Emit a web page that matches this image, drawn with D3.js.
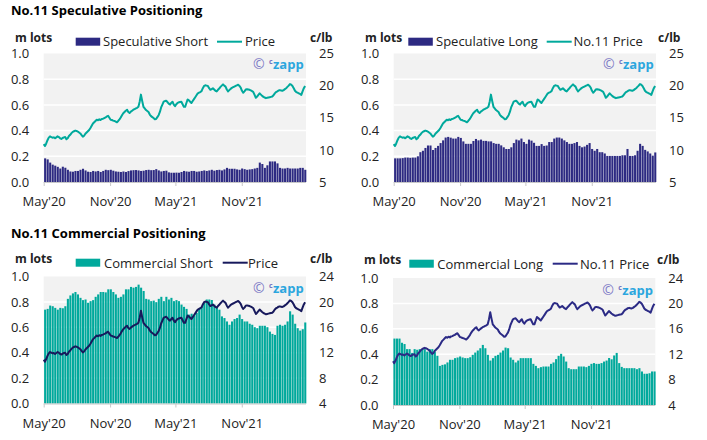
<!DOCTYPE html>
<html><head><meta charset="utf-8">
<script src="https://cdn.jsdelivr.net/npm/d3@7"></script>
<style>
body{margin:0;background:#fff}
svg text{font-family:'Open Sans',sans-serif}
</style>
</head><body>
<svg id="c" width="707" height="440"></svg>
<script>
// ---------- DATA ----------
const weekStart = "2020-05-05";           // first weekly COT report
const priceStart = "2020-05-01";          // first price point
const priceStepHours = 84;                // half-week steps
const xTickDates = ["2020-05-01","2020-11-01","2021-05-01","2021-11-01"];
const leftTicks = [0, 0.2, 0.4, 0.6, 0.8, 1.0];
const rightTicksSpec = [5, 10, 15, 20, 25];
const rightTicksComm = [4, 8, 12, 16, 20, 24];

const specShort = [.184,.176,.151,.135,.127,.118,.105,.119,.111,.095,
 .082,.080,.086,.086,.095,.103,.090,.080,.078,.086,
 .082,.086,.078,.086,.095,.092,.095,.088,.082,.080,
 .078,.082,.078,.085,.090,.092,.093,.090,.086,.088,
 .093,.095,.092,.093,.100,.090,.082,.086,.088,.075,
 .072,.072,.073,.072,.078,.086,.082,.080,.086,.086,
 .080,.082,.086,.090,.086,.090,.095,.088,.093,.095,
 .090,.098,.110,.103,.103,.103,.098,.095,.105,.100,
 .095,.098,.100,.105,.110,.151,.140,.110,.130,.160,
 .160,.160,.145,.110,.105,.105,.110,.105,.105,.105,
 .105,.110,.110,.095];

const specLong = [.184,.184,.184,.186,.190,.190,.188,.190,.190,.200,
 .232,.243,.265,.284,.284,.249,.265,.281,.303,.324,
 .346,.351,.345,.338,.338,.351,.343,.316,.297,.297,
 .297,.319,.335,.324,.330,.320,.320,.316,.316,.303,
 .297,.297,.285,.270,.257,.257,.270,.303,.330,.324,
 .338,.311,.297,.330,.322,.305,.281,.281,.295,.281,
 .284,.311,.311,.338,.346,.346,.338,.324,.311,.297,
 .297,.303,.311,.281,.270,.276,.289,.303,.257,.243,
 .257,.232,.232,.222,.203,.203,.203,.203,.203,.203,
 .208,.208,.257,.203,.203,.208,.243,.297,.281,.250,
 .238,.222,.205,.230];

const commShort = [.739,.745,.771,.766,.753,.739,.753,.750,.766,.824,
 .851,.867,.878,.859,.832,.814,.819,.793,.806,.814,
 .840,.859,.878,.878,.875,.899,.899,.878,.859,.832,
 .840,.859,.899,.899,.918,.912,.918,.936,.912,.886,
 .824,.819,.806,.810,.798,.824,.840,.806,.840,.819,
 .832,.806,.814,.806,.779,.761,.745,.700,.707,.691,
 .713,.745,.761,.793,.819,.819,.815,.779,.761,.739,
 .686,.673,.646,.620,.646,.665,.673,.700,.665,.646,
 .646,.628,.620,.601,.593,.612,.612,.612,.601,.566,
 .548,.540,.612,.620,.612,.620,.646,.726,.700,.628,
 .593,.574,.585,.638];

const commLong = [.523,.523,.523,.490,.480,.440,.440,.410,.440,.435,
 .440,.440,.440,.420,.440,.440,.420,.387,.308,.316,
 .320,.335,.356,.356,.369,.374,.382,.374,.369,.369,
 .376,.395,.413,.429,.447,.473,.447,.395,.350,.369,
 .387,.395,.413,.429,.452,.447,.374,.356,.335,.350,
 .369,.369,.369,.369,.369,.324,.308,.290,.298,.303,
 .303,.303,.324,.335,.361,.387,.403,.382,.342,.290,
 .282,.282,.282,.303,.303,.303,.298,.308,.324,.330,
 .324,.324,.330,.342,.350,.370,.360,.390,.410,.330,
 .300,.290,.290,.290,.290,.290,.282,.290,.264,.246,
 .246,.250,.264,.264];

const price = [10.9,10.6,11.0,11.5,11.9,12.1,12.0,11.9,11.95,11.8,
 11.95,12.1,12.0,11.8,11.7,11.85,11.95,12.0,11.65,11.8,
 12.15,12.35,12.6,12.8,12.9,13.0,12.95,12.85,12.7,12.55,
 12.3,12.05,12.2,12.5,12.7,12.9,13.1,13.4,13.75,14.1,
 14.3,14.5,14.7,14.6,14.75,14.65,14.8,14.85,14.95,15.05,
 15.2,15.3,15.0,14.7,14.65,14.55,14.5,14.4,14.3,14.5,
 14.75,15.05,15.4,15.7,15.9,16.1,16.25,15.9,15.75,15.95,
 16.1,16.25,16.35,16.45,16.55,16.7,17.5,18.6,17.6,16.7,
 16.45,16.2,16.05,15.9,15.5,15.25,15.1,14.95,14.75,14.8,
 15.1,15.4,15.9,16.6,17.05,17.5,17.6,17.65,17.45,17.2,
 17.05,17.3,17.5,17.05,16.8,17.1,17.3,17.4,17.45,17.5,
 17.1,16.7,16.7,17.3,17.85,17.7,17.5,17.3,17.6,17.9,
 18.2,18.5,18.8,18.9,19.0,19.15,19.6,19.95,20.05,20.0,
 19.95,19.6,19.35,19.45,19.6,19.4,19.2,19.1,19.35,19.55,
 19.8,20.0,20.2,20.0,19.85,19.4,19.1,19.3,19.5,19.65,
 19.75,19.85,19.95,20.05,20.15,19.95,19.7,19.2,18.9,19.1,
 19.4,19.45,19.4,19.35,19.25,19.15,19.0,18.55,18.1,18.3,
 18.55,18.8,18.6,18.4,18.25,18.15,18.05,18.1,18.15,18.2,
 18.25,18.3,18.5,18.8,19.0,19.1,19.25,19.3,19.25,19.2,
 19.3,19.45,19.6,19.8,20.0,20.25,20.15,19.95,19.6,19.2,
 19.0,18.9,18.8,18.7,18.55,19.1,19.6,19.95];

const titles = ["No.11 Speculative Positioning", "No.11 Commercial Positioning"];
const barNames = ["Speculative Short", "Speculative Long", "Commercial Short", "Commercial Long"];
const lineNames = ["Price", "No.11 Price", "Price", "No.11 Price"];

// ---------- STYLE / LAYOUT ----------
const NAVY = "#2d2a82", TEAL = "#00a99c";
const parse = d3.utcParse("%Y-%m-%d");
const wk0 = parse(weekStart), p0 = parse(priceStart);
const xDomain = [parse("2020-05-01"), parse("2022-04-28")];

const panels = [
 {L:43.7, R:306, T:53.5, B:182, bars:specShort, barColor:NAVY, lineColor:TEAL, rd:[5,25], rt:rightTicksSpec,
  leg:{rect:75.7, text:103, line:217, ltext:245, y:41.7, base:46}, mlots:{x:15,y:42}, clb:{x:310,y:42}, wm:{y:64}, name:0},
 {L:393.7, R:656, T:53.5, B:182, bars:specLong, barColor:NAVY, lineColor:TEAL, rd:[5,25], rt:rightTicksSpec,
  leg:{rect:408.3, text:436, line:546.7, ltext:573.5, y:41.7, base:46}, mlots:{x:365,y:42}, clb:{x:658,y:42}, wm:{y:64}, name:1},
 {L:43.7, R:306, T:276.5, B:403.5, bars:commShort, barColor:TEAL, lineColor:"#17195c", rd:[4,24], rt:rightTicksComm,
  leg:{rect:75.7, text:104, line:222.7, ltext:248, y:262.7, base:267.5}, mlots:{x:15,y:263}, clb:{x:310,y:263}, wm:{y:288}, name:2},
 {L:393, R:655.3, T:278, B:405, bars:commLong, barColor:TEAL, lineColor:"#2b2a85", rd:[4,24], rt:rightTicksComm,
  leg:{rect:409.3, text:437.3, line:552.7, ltext:580, y:263.7, base:268.5}, mlots:{x:364,y:264}, clb:{x:657,y:264}, wm:{y:290}, name:3}
];

const svg = d3.select("#c");

svg.append("text").attr("x",11).attr("y",15).attr("font-size",13).attr("font-weight",700).attr("fill","#000").text(titles[0]);
svg.append("text").attr("x",11).attr("y",238).attr("font-size",13).attr("font-weight",700).attr("fill","#000").text(titles[1]);

panels.forEach((p,pi) => {
  const g = svg.append("g");
  const x = d3.scaleUtc().domain(xDomain).range([p.L, p.R]);
  const y = d3.scaleLinear().domain([0,1]).range([p.B, p.T]);
  const yr = d3.scaleLinear().domain(p.rd).range([p.B, p.T]);

  // background
  g.append("rect").attr("x",p.L).attr("y",p.T).attr("width",p.R-p.L).attr("height",p.B-p.T).attr("fill","#f2f2f2");
  // gridlines
  g.selectAll(".grid").data(leftTicks.slice(1,-1)).join("line")
    .attr("x1",p.L).attr("x2",p.R).attr("y1",d=>y(d)).attr("y2",d=>y(d))
    .attr("stroke","#fff").attr("stroke-width",1.5);

  // bars
  const dates = p.bars.map((v,i)=> d3.utcDay.offset(wk0, 7*i));
  const pitch = x(d3.utcDay.offset(wk0,7)) - x(wk0);
  const bw = pitch*0.82;
  g.selectAll(".bar").data(p.bars).join("rect")
    .attr("x",(d,i)=>x(dates[i]) - bw/2).attr("width",bw)
    .attr("y",d=>y(d)).attr("height",d=>y(0)-y(d)).attr("fill",p.barColor);

  // price line
  const line = d3.line().x((d,i)=>x(d3.utcHour.offset(p0, priceStepHours*i))).y(d=>yr(d));
  g.append("path").datum(price).attr("d",line).attr("fill","none")
    .attr("stroke",p.lineColor).attr("stroke-width",2).attr("stroke-linejoin","round");

  // x axis
  const xa = d3.axisBottom(x).tickValues(xTickDates.map(parse)).tickFormat(d3.utcFormat("%b'%y")).tickSize(4).tickPadding(11);
  const xg = g.append("g").attr("transform",`translate(0,${p.B})`).call(xa);
  xg.select(".domain").attr("stroke","#c8c8c8").attr("d",`M${p.L},0.5H${p.R}`);
  xg.selectAll(".tick line").attr("stroke","#c8c8c8");
  xg.selectAll("text").attr("font-size",13).attr("fill","#222").attr("font-family","'Open Sans',sans-serif");

  // left axis
  const la = d3.axisLeft(y).tickValues(leftTicks).tickFormat(d3.format(".1f")).tickSize(0).tickPadding(14.5);
  const lg = g.append("g").attr("transform",`translate(${p.L},0)`).call(la);
  lg.select(".domain").remove();
  lg.selectAll("text").attr("font-size",13).attr("fill","#222").attr("font-family","'Open Sans',sans-serif");

  // right axis
  const ra = d3.axisRight(yr).tickValues(p.rt).tickSize(0).tickPadding(13);
  const rg = g.append("g").attr("transform",`translate(${p.R},0)`).call(ra);
  rg.select(".domain").remove();
  rg.selectAll("text").attr("font-size",13).attr("fill","#222").attr("font-family","'Open Sans',sans-serif");

  // unit labels
  g.append("text").attr("x",p.mlots.x).attr("y",p.mlots.y).attr("font-size",12).attr("font-weight",700).attr("fill","#222").text("m lots");
  g.append("text").attr("x",p.clb.x).attr("y",p.clb.y).attr("font-size",12).attr("font-weight",700).attr("fill","#222").text("c/lb");

  // legend
  g.append("rect").attr("x",p.leg.rect).attr("y",p.leg.y-4).attr("width",24.5).attr("height",8).attr("fill",p.barColor);
  g.append("text").attr("x",p.leg.text).attr("y",p.leg.base).attr("font-size",13).attr("fill","#222").text(barNames[pi]);
  g.append("line").attr("x1",p.leg.line).attr("x2",p.leg.line+25).attr("y1",p.leg.y).attr("y2",p.leg.y)
    .attr("stroke",p.lineColor).attr("stroke-width",2);
  g.append("text").attr("x",p.leg.ltext).attr("y",p.leg.base).attr("font-size",13).attr("fill","#222").text(lineNames[pi]);

  // watermark
  const wx = p.R - 53;
  g.append("text").attr("x",wx).attr("y",p.wm.y+4.5).attr("font-size",14).attr("fill","#7d7ac6").text("\u00A9");
  g.append("text").attr("x",wx+16).attr("y",p.wm.y-0.5).attr("font-size",7).attr("font-weight",700).attr("fill","#6f6fc0").text("c");
  g.append("text").attr("x",wx+20).attr("y",p.wm.y+4.5).attr("font-size",13).attr("font-weight",700).attr("fill","#2ba6de").text("zapp");
});
</script>
</body></html>
